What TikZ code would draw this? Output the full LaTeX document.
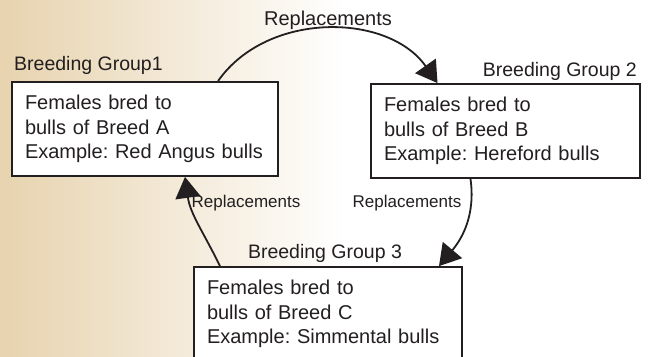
\documentclass[tikz,border=0pt]{standalone}
\usepackage{fontspec}
\setmainfont{Liberation Sans}
\usetikzlibrary{arrows.meta}
\definecolor{tan}{RGB}{231,211,174}
\definecolor{ink}{RGB}{35,31,32}
\tikzset{
  breedbox/.style={draw=ink, line width=1.8pt, fill=white, text=ink,
    minimum width=#1, minimum height=94pt, text width=#1-24pt, inner xsep=13pt,
    align=left, font=\frenchspacing\fontsize{20}{24.5}\selectfont},
  grplabel/.style={text=ink, inner sep=0pt, font=\fontsize{19.5}{22}\selectfont},
  replabel/.style={text=ink, inner sep=0pt, font=\fontsize{17}{20}\selectfont},
  toplabel/.style={text=ink, inner sep=0pt, font=\fontsize{20}{22}\selectfont},
  flow/.style={draw=ink, line width=1.8pt, -{Triangle[length=21pt,width=25pt]}}
}
\begin{document}
\begin{tikzpicture}[x=1pt,y=1pt]
\useasboundingbox (0,0) rectangle (652,-356);
\shade[left color=tan, right color=white] (0,0) rectangle (345,-356);
\fill[white] (345,0) rectangle (652,-356);

\node[breedbox=264pt] (b1) at (145,-129) {Females bred to\\bulls of Breed A\\Example: Red Angus bulls};
\node[breedbox=267pt] (b2) at (505.5,-131) {Females bred to\\bulls of Breed B\\Example: Hereford bulls};
\node[breedbox=266pt] (b3) at (328,-314) {Females bred to\\bulls of Breed C\\Example: Simmental bulls};

\node[grplabel, anchor=west] (g1) at (14,-65) {Breeding Group1};
\node[grplabel, anchor=east] (g2) at (637,-71) {Breeding Group 2};
\node[grplabel] (g3) at (325,-253) {Breeding Group 3};

\node[toplabel] (r1) at (328,-20) {Replacements};
\node[replabel] (r2) at (407,-203) {Replacements};
\node[replabel] (r3) at (246,-203) {Replacements};

\draw[flow] ([xshift=73pt]b1.north) to[out=55,in=125] ([xshift=-68pt]b2.north);
\draw[flow] ([xshift=-35pt]b2.south) to[out=-82,in=50] ([xshift=111pt]b3.north);
\draw[flow] ([xshift=-108pt]b3.north) to[out=116,in=-82] ([xshift=40pt]b1.south);
\end{tikzpicture}
\end{document}
